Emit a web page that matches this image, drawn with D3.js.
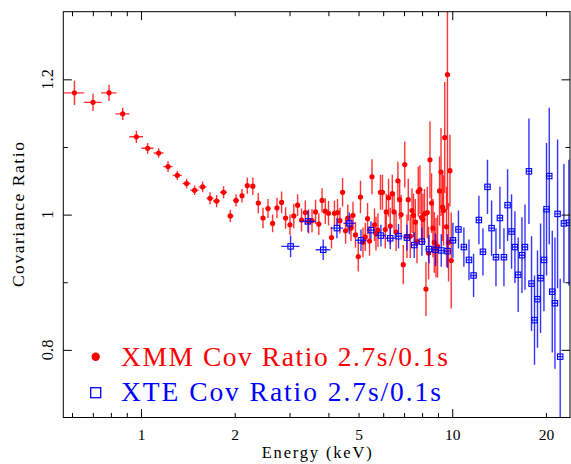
<!DOCTYPE html>
<html>
<head>
<meta charset="utf-8">
<script src="https://cdn.jsdelivr.net/npm/d3@7"></script>
<style>
  html, body { margin: 0; padding: 0; background: #fff; }
  svg { display: block; }
  text { font-family: "Liberation Serif", "Times New Roman", serif; }
</style>
</head>
<body>
<svg id="chart" width="571" height="464"></svg>
<script>
// ---------------- DATA ----------------
// XMM covariance ratio (energy keV, half-width keV, ratio, 1-sigma error)
const xmmEnergy = [0.611,0.701,0.789,0.873,0.966,1.050,1.139,1.221,1.308,1.401,
  1.486,1.577,1.666,1.749,1.842,1.936,2.020,2.111,2.195,2.287,
  2.381,2.465,2.559,2.647,2.734,2.829,2.914,3.010,3.096,3.185,
  3.279,3.372,3.455,3.543,3.638,3.726,3.817,3.909,4.003,4.093,
  4.183,4.280,4.357,4.442,4.542,4.617,4.727,4.798,4.887,4.989,
  5.071,5.166,5.254,5.345,5.424,5.522,5.625,5.687,5.772,5.880,
  5.968,6.093,6.138,6.243,6.322,6.417,6.503,6.600,6.689,6.777,
  6.848,6.961,7.038,7.154,7.223,7.331,7.424,7.507,7.608,7.703,
  7.777,7.875,7.969,8.052,8.142,8.233,8.313,8.393,8.481,8.581,
  8.670,8.754,8.864,8.970,9.103,9.204,9.307,9.376,9.460,9.587,
  9.652,9.730,9.831,9.926];
const xmmEnergyErr = [0.046,0.047,0.045,0.045,0.049,0.047,0.042,0.041,0.044,0.042,
  0.044,0.047,0.043,0.045,0.048,0.043,0.045,0.032,0.033,0.034,
  0.036,0.037,0.038,0.040,0.041,0.042,0.044,0.045,0.046,0.048,
  0.049,0.051,0.052,0.053,0.055,0.056,0.057,0.059,0.060,0.061,
  0.063,0.064,0.065,0.067,0.068,0.069,0.071,0.072,0.073,0.075,
  0.076,0.077,0.079,0.080,0.081,0.083,0.084,0.085,0.087,0.088,
  0.090,0.091,0.092,0.094,0.095,0.096,0.098,0.099,0.100,0.102,
  0.103,0.104,0.106,0.107,0.108,0.110,0.111,0.113,0.114,0.116,
  0.117,0.118,0.120,0.121,0.122,0.124,0.125,0.126,0.127,0.129,
  0.130,0.131,0.133,0.135,0.137,0.138,0.140,0.141,0.142,0.144,
  0.145,0.146,0.147,0.149];
const xmmRatio = [1.180,1.166,1.180,1.149,1.115,1.098,1.091,1.071,1.058,1.046,
  1.036,1.041,1.024,1.020,1.033,0.998,1.021,1.028,1.043,1.042,
  1.017,0.995,1.009,0.987,1.010,1.018,0.995,0.985,0.998,1.014,
  0.992,1.003,0.990,0.991,1.004,0.986,1.021,1.005,1.002,0.966,
  1.002,1.003,0.991,1.033,0.976,0.995,0.980,0.999,0.970,0.938,
  1.026,0.959,0.967,0.994,0.961,1.056,0.985,0.972,0.977,1.033,
  1.033,0.978,1.004,1.025,0.983,1.031,1.004,0.974,1.050,1.022,
  1.000,0.926,1.074,0.968,1.022,0.968,1.006,0.999,0.989,0.960,
  1.034,1.037,0.996,0.993,1.001,0.890,1.003,0.943,1.081,1.017,
  0.980,0.959,0.951,0.953,1.035,1.063,1.011,1.006,1.114,0.982,
  1.207,0.959,1.065,0.932];
const xmmRatioErr = [0.018,0.013,0.012,0.009,0.009,0.008,0.007,0.008,0.007,0.007,
  0.007,0.008,0.009,0.009,0.009,0.009,0.009,0.010,0.012,0.013,
  0.015,0.015,0.014,0.013,0.015,0.016,0.016,0.015,0.018,0.016,
  0.017,0.018,0.018,0.017,0.018,0.016,0.018,0.019,0.018,0.016,
  0.019,0.020,0.019,0.021,0.019,0.020,0.019,0.020,0.019,0.022,
  0.024,0.022,0.021,0.023,0.022,0.026,0.024,0.025,0.025,0.026,
  0.026,0.028,0.027,0.028,0.027,0.028,0.029,0.028,0.028,0.029,
  0.029,0.029,0.034,0.032,0.031,0.032,0.033,0.032,0.034,0.032,
  0.037,0.036,0.037,0.038,0.037,0.040,0.038,0.039,0.057,0.044,
  0.043,0.045,0.044,0.046,0.051,0.065,0.050,0.052,0.082,0.059,
  0.200,0.058,0.053,0.071];

// XTE covariance ratio
const xteEnergy = [3.024,3.44,3.85,4.26,4.67,5.09,5.48,5.90,6.32,6.72,
  7.15,7.55,7.99,8.42,8.84,9.22,9.66,10.05,10.47,10.90,
  11.32,11.71,12.18,12.55,12.98,13.38,13.82,14.23,14.66,15.06,
  15.51,15.90,16.29,16.75,17.13,17.64,17.98,18.38,18.79,19.22,
  19.71,20.09,20.50,20.96,21.38,21.80,22.23,22.85,23.71];
const xteEnergyErr = [0.205,0.205,0.21,0.20,0.20,0.22,0.17,0.23,0.23,0.20,
  0.19,0.20,0.21,0.22,0.23,0.24,0.25,0.26,0.21,0.22,
  0.23,0.23,0.24,0.25,0.26,0.27,0.27,0.28,0.29,0.30,
  0.30,0.31,0.32,0.33,0.34,0.35,0.35,0.36,0.37,0.38,
  0.38,0.39,0.40,0.41,0.42,0.42,0.43,0.44,0.46];
const xteRatio = [0.953,0.990,0.948,0.980,0.987,0.962,0.977,0.969,0.965,0.968,
  0.966,0.955,0.960,0.949,0.948,0.947,0.946,0.962,0.978,0.952,
  0.933,0.910,0.992,0.945,1.041,0.980,0.937,0.995,0.937,1.014,
  0.975,0.952,0.911,0.940,0.952,1.064,0.898,0.844,0.875,0.906,
  0.933,1.008,1.057,0.886,0.869,1.001,0.790,0.987,0.988];
const xteRatioErr = [0.016,0.016,0.015,0.015,0.016,0.016,0.013,0.016,0.016,0.018,
  0.019,0.019,0.021,0.021,0.024,0.024,0.025,0.026,0.028,0.029,
  0.030,0.032,0.036,0.035,0.040,0.041,0.043,0.046,0.043,0.053,
  0.055,0.053,0.055,0.056,0.063,0.078,0.070,0.066,0.072,0.081,
  0.076,0.098,0.101,0.090,0.097,0.110,0.115,0.088,0.093];

const xTickLabels = [1, 2, 5, 10, 20];
const xMajorTicks = [1, 10];
const xMinorTicks = [0.6, 0.7, 0.8, 0.9, 2, 3, 4, 5, 6, 7, 8, 9, 20];
const yTickLabels = [0.8, 1, 1.2];
const yMinorTicks = [0.9, 1.1];
const seriesNames = ["XMM Cov Ratio 2.7s/0.1s", "XTE Cov Ratio 2.7s/0.1s"];
const xTitle = "Energy (keV)";
const yTitle = "Covariance Ratio";

// ---------------- LAYOUT ----------------
const L = 63.3, R = 570, T = 11.7, B = 417.5;
const RED = "#ff0000", BLUE = "#0000ff";

const svg = d3.select("#chart");
const x = d3.scaleLog().domain([0.5626, 23.9]).range([L, R]);
const y = d3.scaleLinear().domain([0.7, 1.3]).range([B, T]);

svg.append("defs").append("clipPath").attr("id", "plotclip")
  .append("rect").attr("x", L).attr("y", T).attr("width", R - L).attr("height", B - T);

const plot = svg.append("g").attr("clip-path", "url(#plotclip)");

function drawSeries(E, dE, V, dV, color, kind) {
  const data = E.map((e, i) => ({ e, de: dE[i], v: V[i], dv: dV[i] }));
  const g = plot.append("g");
  const bars = g.append("g").attr("stroke", color).attr("stroke-width", 1.4)
    .attr("stroke-opacity", 0.8);
  bars.selectAll("line.v").data(data).join("line").attr("class", "v")
    .attr("x1", d => x(d.e)).attr("x2", d => x(d.e))
    .attr("y1", d => y(d.v - d.dv)).attr("y2", d => y(d.v + d.dv));
  bars.selectAll("line.h").data(data).join("line").attr("class", "h")
    .attr("x1", d => x(d.e - d.de)).attr("x2", d => x(d.e + d.de))
    .attr("y1", d => y(d.v)).attr("y2", d => y(d.v));
  if (kind === "dot") {
    g.selectAll("circle").data(data).join("circle")
      .attr("cx", d => x(d.e)).attr("cy", d => y(d.v)).attr("r", 2.6)
      .attr("fill", color);
  } else {
    const s = 5.4;
    g.selectAll("rect").data(data).join("rect")
      .attr("x", d => x(d.e) - s / 2).attr("y", d => y(d.v) - s / 2)
      .attr("width", s).attr("height", s)
      .attr("fill", "none").attr("stroke", color).attr("stroke-width", 1.1);
  }
}
drawSeries(xmmEnergy, xmmEnergyErr, xmmRatio, xmmRatioErr, RED, "dot");
drawSeries(xteEnergy, xteEnergyErr, xteRatio, xteRatioErr, BLUE, "square");

// ---------------- AXES (ticks inside, PGPLOT style) ----------------
const axG = svg.append("g");
function tickAxis(axisFn, scale, values, len, tr) {
  const a = axisFn(scale).tickValues(values).tickSize(-len).tickFormat("");
  const g = axG.append("g").attr("transform", tr).call(a);
  g.select(".domain").remove();
  g.selectAll("line").attr("stroke", "#000").attr("stroke-width", 1);
}
tickAxis(d3.axisBottom, x, xMajorTicks, 8.5, `translate(0,${B})`);
tickAxis(d3.axisBottom, x, xMinorTicks, 4.5, `translate(0,${B})`);
tickAxis(d3.axisTop, x, xMajorTicks, 8.5, `translate(0,${T})`);
tickAxis(d3.axisTop, x, xMinorTicks, 4.5, `translate(0,${T})`);
tickAxis(d3.axisLeft, y, yTickLabels, 8.5, `translate(${L},0)`);
tickAxis(d3.axisLeft, y, yMinorTicks, 4.5, `translate(${L},0)`);
tickAxis(d3.axisRight, y, yTickLabels, 8.5, `translate(${R},0)`);
tickAxis(d3.axisRight, y, yMinorTicks, 4.5, `translate(${R},0)`);

// frame
axG.append("rect").attr("x", L).attr("y", T).attr("width", R - L).attr("height", B - T)
  .attr("fill", "none").attr("stroke", "#000").attr("stroke-width", 1);

// bottom labels
const xl = axG.append("g").attr("transform", `translate(0,${B})`)
  .call(d3.axisBottom(x).tickValues(xTickLabels).tickSize(0).tickPadding(11)
    .tickFormat(d3.format("d")));
xl.select(".domain").remove();
xl.selectAll("text").attr("font-family", "Liberation Serif, serif")
  .attr("font-size", 15.5).attr("fill", "#000");

// left labels (rotated)
axG.selectAll("text.ylab").data(yTickLabels).join("text").attr("class", "ylab")
  .attr("transform", d => `translate(52.5,${y(d)}) rotate(-90)`)
  .attr("text-anchor", "middle").attr("font-size", 16.5).attr("fill", "#000")
  .text(d => d3.format("")(d));

// titles
svg.append("text").attr("x", (L + R) / 2).attr("y", 458.3).attr("text-anchor", "middle")
  .attr("font-size", 16.5).attr("textLength", 110).attr("lengthAdjust", "spacing")
  .text(xTitle);
svg.append("text").attr("transform", `translate(23.5,${(T + B) / 2}) rotate(-90)`)
  .attr("text-anchor", "middle").attr("font-size", 17.5)
  .attr("textLength", 145).attr("lengthAdjust", "spacing").text(yTitle);

// legend
const lg = svg.append("g");
lg.append("circle").attr("cx", 95.7).attr("cy", 356.7).attr("r", 4.2).attr("fill", RED);
lg.append("text").attr("x", 121).attr("y", 365.7).attr("font-size", 27.5).attr("fill", RED)
  .attr("textLength", 327).attr("lengthAdjust", "spacing").text(seriesNames[0]);
lg.append("rect").attr("x", 90.7).attr("y", 387.7).attr("width", 10).attr("height", 10)
  .attr("fill", "none").attr("stroke", BLUE).attr("stroke-width", 1.3);
lg.append("text").attr("x", 121).attr("y", 401).attr("font-size", 27.5).attr("fill", BLUE)
  .attr("textLength", 320).attr("lengthAdjust", "spacing").text(seriesNames[1]);
</script>
</body>
</html>
